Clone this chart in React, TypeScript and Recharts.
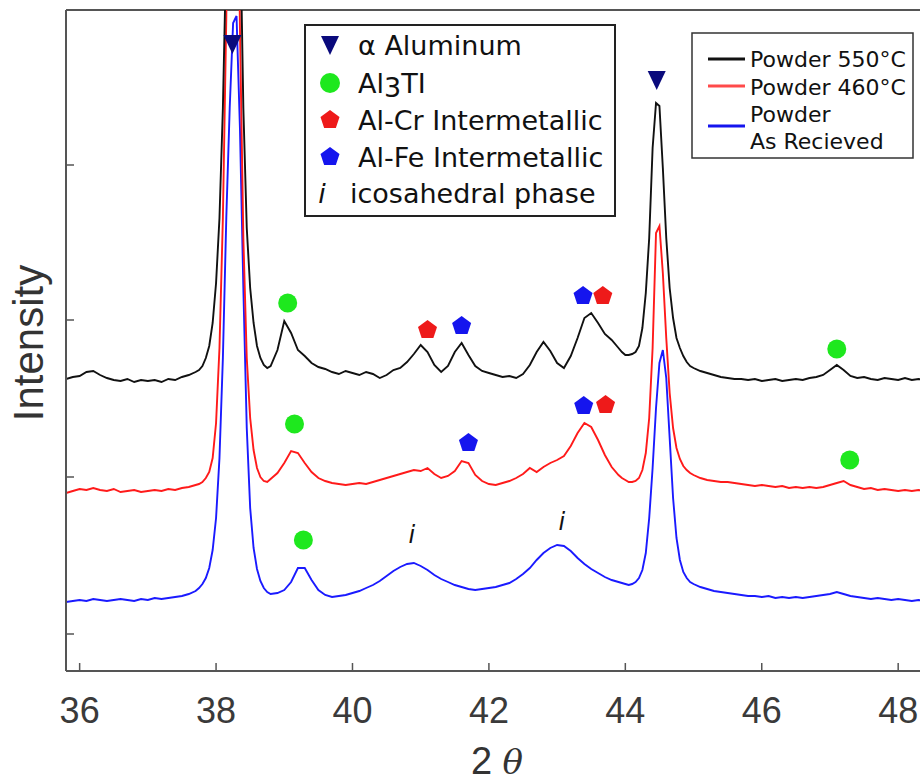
import React from 'react';
import { ComposedChart, Line, Scatter, XAxis, YAxis, ReferenceLine, Label } from 'recharts';

// 2θ sample positions (denser around the two strong Al peaks)
const twoTheta = [
  35.8, 35.9, 36.0, 36.1, 36.2, 36.3, 36.4, 36.5, 36.6, 36.7, 36.8, 36.9, 37.0, 37.1, 37.2, 37.3, 37.4, 37.5, 37.6, 37.7,
  37.75, 37.8, 37.85, 37.9, 37.95, 38.0, 38.05, 38.1, 38.15, 38.2, 38.25, 38.3, 38.35, 38.4, 38.45, 38.5, 38.55, 38.6, 38.65, 38.7, 38.75, 38.8,
  38.9, 39.0, 39.1, 39.2, 39.3, 39.4, 39.5, 39.6, 39.7, 39.8, 39.9,
  40.0, 40.1, 40.2, 40.3, 40.4, 40.5, 40.6, 40.7, 40.8, 40.9,
  41.0, 41.1, 41.2, 41.3, 41.4, 41.5, 41.6, 41.7, 41.8, 41.9,
  42.0, 42.1, 42.2, 42.3, 42.4, 42.5, 42.6, 42.7, 42.8, 42.9,
  43.0, 43.1, 43.2, 43.3, 43.4, 43.5, 43.6, 43.7, 43.8, 43.9,
  43.95, 44.0, 44.05, 44.1, 44.15, 44.2, 44.25, 44.3, 44.35, 44.4, 44.45, 44.5, 44.55, 44.6, 44.65, 44.7, 44.75, 44.8, 44.85, 44.9, 44.95, 45.0,
  45.1, 45.2, 45.3, 45.4, 45.5, 45.6, 45.7, 45.8, 45.9,
  46.0, 46.1, 46.2, 46.3, 46.4, 46.5, 46.6, 46.7, 46.8, 46.9,
  47.0, 47.1, 47.2, 47.3, 47.4, 47.5, 47.6, 47.7, 47.8, 47.9,
  48.0, 48.1, 48.2, 48.3, 48.4,
];

// intensities (arbitrary units, traces already offset as in the figure)
const powder550 = [
  289, 291, 292, 296, 297, 293, 290, 288, 287, 289, 286, 288, 287, 288, 286, 289, 288, 291, 293, 296,
  298, 302, 310, 322, 345, 385, 450, 560, 720, 1000, 1300, 1050, 760, 560, 440, 380, 345, 322, 310, 303, 300, 302,
  318, 347, 335, 318, 312, 305, 301, 299, 296, 294, 297,
  295, 293, 296, 294, 290, 293, 298, 300, 306, 314,
  323, 316, 303, 296, 302, 316, 325, 313, 302, 297,
  295, 293, 291, 292, 290, 294, 303, 316, 326, 317,
  305, 300, 312, 330, 350, 355, 345, 334, 328, 320,
  316, 313, 313, 314, 316, 322, 340, 375, 430, 520, 565, 562, 500, 430, 380, 350, 330, 320, 312, 306, 302, 300,
  297, 295, 293, 291, 290, 289, 289, 288, 289,
  287, 288, 289, 287, 288, 289, 288, 290, 291, 293,
  298, 303, 298, 292, 290, 291, 289, 288, 290, 289,
  288, 290, 288, 289, 288,
];

const powder460 = [
  175, 177, 179, 178, 180, 178, 177, 179, 176, 177, 178, 176, 177, 178, 177, 179, 178, 180, 181, 183,
  184, 186, 190, 196, 210, 245, 320, 450, 650, 950, 1200, 950, 640, 430, 310, 250, 218, 200, 191, 187, 186, 189,
  195, 205, 217, 215, 205, 196, 190, 187, 185, 184, 183,
  184, 185, 184, 186, 188, 190, 192, 194, 196, 198,
  197, 200, 194, 190, 192, 197, 207, 205, 193, 187,
  184, 183, 185, 187, 190, 194, 200, 196, 201, 205,
  208, 212, 222, 235, 245, 241, 228, 213, 201, 193,
  190, 188, 186, 186, 187, 190, 198, 215, 250, 320, 435, 442, 395, 330, 275, 240, 220, 209, 202, 198, 195, 193,
  190, 188, 187, 186, 186, 185, 184, 183, 182,
  183, 182, 181, 182, 180, 181, 180, 181, 180, 181,
  183, 185, 187, 183, 181, 179, 180, 178, 179, 178,
  177, 178, 177, 178, 177,
];

const asReceived = [
  66, 67, 68, 67, 69, 68, 67, 68, 69, 68, 67, 69, 68, 70, 69, 70, 71, 72, 74, 77,
  80, 84, 90, 100, 118, 150, 210, 310, 450, 560, 645, 652, 540, 380, 240, 160, 120, 99, 87, 80, 76, 74,
  75, 78, 86, 100, 100, 88, 78, 73, 71, 72, 73,
  75, 77, 80, 83, 87, 92, 97, 101, 104, 105,
  102, 98, 93, 89, 86, 83, 81, 79, 78, 79,
  80, 81, 83, 85, 89, 94, 100, 108, 115, 120,
  123, 122, 117, 110, 104, 99, 95, 91, 88, 86,
  85, 84, 83, 84, 86, 90, 98, 115, 150, 200, 260, 305, 318, 290, 230, 170, 130, 108, 96, 90, 86, 84,
  81, 79, 77, 76, 75, 74, 73, 72, 72,
  71, 72, 70, 71, 70, 71, 70, 71, 72, 73,
  74, 76, 74, 72, 71, 70, 69, 70, 69, 68,
  69, 68, 67, 68, 67,
];

const xTicks = [36, 38, 40, 42, 44, 46, 48];
const yTicks = [34, 191, 348, 503];

// phase markers (2θ, height)
const alphaAluminum = [{ x: 38.24, y: 624 }, { x: 44.46, y: 588 }];
const al3Ti = [
  { x: 39.05, y: 365 }, { x: 39.15, y: 244 }, { x: 39.28, y: 128 },
  { x: 47.1, y: 319 }, { x: 47.29, y: 208 },
];
const alCr = [{ x: 41.1, y: 339 }, { x: 43.67, y: 373 }, { x: 43.71, y: 264 }];
const alFe = [{ x: 41.6, y: 343 }, { x: 43.38, y: 373 }, { x: 43.39, y: 263 }, { x: 41.7, y: 226 }];
const icosahedral = [{ x: 40.87, y: 133 }, { x: 43.07, y: 146 }];

const rows = twoTheta.map((x, i) => ({
  x,
  p550: powder550[i],
  p460: powder460[i],
  raw: asReceived[i],
}));

const NAVY = '#0a0a7c';
const GREEN = '#1ee81e';
const RED = '#ee1a1a';
const BLUE = '#1515ee';
const AXIS = '#555';

function trianglePts(cx: number, cy: number) {
  return `${cx - 9},${cy - 9} ${cx + 9},${cy - 9} ${cx},${cy + 10}`;
}

function pentagonPts(cx: number, cy: number, r = 10) {
  const pts = [];
  for (let k = 0; k < 5; k++) {
    const a = (-90 + 72 * k) * Math.PI / 180;
    pts.push(`${cx + r * Math.cos(a)},${cy + 1 + r * Math.sin(a)}`);
  }
  return pts.join(' ');
}

const triangleShape = (p: any) => <polygon points={trianglePts(p.cx, p.cy)} fill={NAVY} />;
const circleShape = (p: any) => <circle cx={p.cx} cy={p.cy} r={9.5} fill={GREEN} />;
const crShape = (p: any) => <polygon points={pentagonPts(p.cx, p.cy)} fill={RED} />;
const feShape = (p: any) => <polygon points={pentagonPts(p.cx, p.cy)} fill={BLUE} />;
const iShape = (p: any) => (
  <text x={p.cx} y={p.cy + 8} textAnchor="middle" fontSize={24} fontStyle="italic"
    fontFamily="'DejaVu Sans', sans-serif" fill="#111">i</text>
);

function Legends() {
  const font = "'DejaVu Sans', Verdana, sans-serif";
  return (
    <svg width={920} height={784} style={{ position: 'absolute', left: 0, top: 0, pointerEvents: 'none' }}>
      <rect x={305} y={25} width={310} height={191} fill="#fff" stroke="#222" strokeWidth={2} />
      <polygon points={trianglePts(330, 45)} fill={NAVY} />
      <text x={358} y={55} fontFamily={font} fontSize={27} fill="#111">α Aluminum</text>
      <circle cx={330} cy={83} r={10} fill={GREEN} />
      <text x={358} y={93} fontFamily={font} fontSize={27} fill="#111">
        Al<tspan dy={4}>3</tspan><tspan dy={-4}>TI</tspan>
      </text>
      <polygon points={pentagonPts(330, 119)} fill={RED} />
      <text x={358} y={130} fontFamily={font} fontSize={27} fill="#111">Al-Cr Intermetallic</text>
      <polygon points={pentagonPts(330, 156)} fill={BLUE} />
      <text x={358} y={167} fontFamily={font} fontSize={27} fill="#111">Al-Fe Intermetallic</text>
      <text x={322} y={203} fontFamily={font} fontSize={27} fontStyle="italic" fill="#111" textAnchor="middle">i</text>
      <text x={350} y={203} fontFamily={font} fontSize={27} fill="#111">icosahedral phase</text>

      <rect x={692} y={33} width={221} height={125} fill="#fff" stroke="#333" strokeWidth={1.5} />
      <line x1={708} x2={745} y1={59} y2={59} stroke="#111" strokeWidth={3} />
      <text x={750} y={67} fontFamily={font} fontSize={22} fill="#111">Powder 550°C</text>
      <line x1={708} x2={745} y1={86} y2={86} stroke="#ff4a4a" strokeWidth={3} />
      <text x={750} y={95} fontFamily={font} fontSize={22} fill="#111">Powder 460°C</text>
      <line x1={708} x2={745} y1={126} y2={126} stroke={BLUE} strokeWidth={3} />
      <text x={750} y={122} fontFamily={font} fontSize={22} fill="#111">Powder</text>
      <text x={750} y={149} fontFamily={font} fontSize={22} fill="#111">As Recieved</text>
    </svg>
  );
}

export default function App() {
  return (
    <div style={{ position: 'absolute', left: 0, top: 0, width: 920, height: 784, background: '#fff' }}>
      <ComposedChart width={920} height={784} data={rows} margin={{ top: 10, right: 0, bottom: 0, left: 0 }}>
        <XAxis
          dataKey="x"
          type="number"
          domain={[35.8, 48.32]}
          allowDataOverflow
          ticks={xTicks}
          height={113}
          axisLine={{ stroke: AXIS, strokeWidth: 2 }}
          tickLine={{ stroke: AXIS, strokeWidth: 1.5 }}
          tickSize={-8}
          tickMargin={34}
          tick={{ fontSize: 36, fill: '#3a3a3a', fontFamily: "'Liberation Sans', Arial, sans-serif" }}
        >
          <Label
            content={() => (
              <text x={497} y={774} textAnchor="middle" fontSize={38} fill="#333"
                fontFamily="'Liberation Sans', Arial, sans-serif">
                2 <tspan fontStyle="italic" fontFamily="'DejaVu Serif', serif" fontSize={34}>θ</tspan>
              </text>
            )}
          />
        </XAxis>
        <YAxis
          type="number"
          domain={[-3, 658]}
          allowDataOverflow
          ticks={yTicks}
          width={66}
          axisLine={{ stroke: AXIS, strokeWidth: 2 }}
          tickLine={{ stroke: AXIS, strokeWidth: 1.5 }}
          tickSize={-8}
          tickFormatter={() => ''}
        >
          <Label
            content={() => (
              <text transform="translate(43,343) rotate(-90)" textAnchor="middle" fontSize={42} fill="#333"
                fontFamily="'Liberation Sans', Arial, sans-serif">
                Intensity
              </text>
            )}
          />
        </YAxis>
        <ReferenceLine y={658} stroke={AXIS} strokeWidth={2} />
        <Line dataKey="raw" stroke="#1a1aff" strokeWidth={1.9} dot={false} isAnimationActive={false} />
        <Line dataKey="p460" stroke="#ff1a1a" strokeWidth={1.9} dot={false} isAnimationActive={false} />
        <Line dataKey="p550" stroke="#111" strokeWidth={1.9} dot={false} isAnimationActive={false} />
        <Scatter data={alphaAluminum} dataKey="y" shape={triangleShape} isAnimationActive={false} />
        <Scatter data={al3Ti} dataKey="y" shape={circleShape} isAnimationActive={false} />
        <Scatter data={alCr} dataKey="y" shape={crShape} isAnimationActive={false} />
        <Scatter data={alFe} dataKey="y" shape={feShape} isAnimationActive={false} />
        <Scatter data={icosahedral} dataKey="y" shape={iShape} isAnimationActive={false} />
      </ComposedChart>
      <Legends />
    </div>
  );
}
